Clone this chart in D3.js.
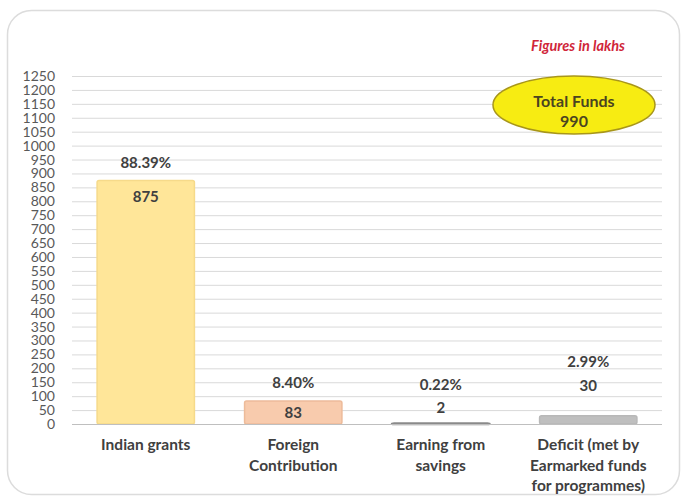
<!DOCTYPE html>
<html>
<head>
<meta charset="utf-8">
<script src="https://cdn.jsdelivr.net/npm/d3@7"></script>
<style>
  body { margin: 0; background: #fff; }
  text { font-family: Lato, "Open Sans", sans-serif; }
</style>
</head>
<body>
<div id="chart"></div>
<script>
// chart data
var categories = ["Indian grants", "Foreign Contribution", "Earning from savings",
                  "Deficit (met by Earmarked funds for programmes)"];
var values = [875, 83, 2, 30];
var shares = ["88.39%", "8.40%", "0.22%", "2.99%"];
var yTicks = d3.range(0, 1251, 50);
var totalLabel = "Total Funds";
var totalValue = 990;
var unitNote = "Figures in lakhs";

// bar styles
var fills   = ["#FFE699", "#F8CBAD", "#9a9a9a", "#BFBFBF"];
var strokes = ["#F6DA8A", "#EDBB9A", "#8a8a8a", "#B8B8B8"];
// label placement relative to bar top (manual, like the original)
var valueDy = [16, 11, -16, -31];
var shareDy = [-18, -19, -39, -55];

var W = 685, H = 499;
var margin = {top: 76, right: 23, bottom: 75, left: 72},
    width = W - margin.left - margin.right,
    height = H - margin.top - margin.bottom;

var svg = d3.select("#chart").append("svg")
    .attr("width", W)
    .attr("height", H);

// outer rounded frame
svg.append("rect")
    .attr("x", 7.5).attr("y", 10.5)
    .attr("width", 672).attr("height", 484)
    .attr("rx", 24)
    .attr("fill", "#fff")
    .attr("stroke", "#dcdcdc")
    .attr("stroke-width", 1.5);

var g = svg.append("g")
    .attr("transform", "translate(" + margin.left + "," + margin.top + ")");

var x = d3.scaleBand().domain(categories).range([0, width])
    .paddingInner(0.34).paddingOuter(0.17);
var y = d3.scaleLinear().domain([0, 1250]).range([height, 0]);

// gridlines
g.selectAll(".grid")
    .data(yTicks.filter(function(d) { return d > 0; }))
    .enter().append("line")
    .attr("x1", 0).attr("x2", width)
    .attr("y1", function(d) { return y(d) + 0.5; })
    .attr("y2", function(d) { return y(d) + 0.5; })
    .attr("stroke", "#d9d9d9")
    .attr("stroke-width", 1);

// y axis labels
var yAxis = g.append("g")
    .call(d3.axisLeft(y).tickValues(yTicks).tickFormat(d3.format("d"))
      .tickSize(0).tickPadding(17));
yAxis.select(".domain").remove();
yAxis.selectAll("text")
    .attr("fill", "#595959")
    .style("font-size", "14px")
    .style("font-family", "Lato, sans-serif");

// bars
g.selectAll(".bar")
    .data(values)
    .enter().append("rect")
    .attr("class", "bar")
    .attr("x", function(d, i) { return x(categories[i]); })
    .attr("width", x.bandwidth())
    .attr("y", function(d) { return y(d); })
    .attr("height", function(d) { return height - y(d); })
    .attr("rx", 2)
    .attr("fill", function(d, i) { return fills[i]; })
    .attr("stroke", function(d, i) { return strokes[i]; })
    .attr("stroke-width", function(d, i) { return i == 2 ? 2.5 : 1.5; });

// baseline
g.append("line")
    .attr("x1", 0).attr("x2", width)
    .attr("y1", height + 0.5).attr("y2", height + 0.5)
    .attr("stroke", "#bfbfbf");

// value labels
g.selectAll(".val")
    .data(values)
    .enter().append("text")
    .attr("x", function(d, i) { return x(categories[i]) + x.bandwidth() / 2; })
    .attr("y", function(d, i) { return y(d) + valueDy[i]; })
    .attr("text-anchor", "middle")
    .attr("dominant-baseline", "central")
    .attr("fill", "#404040")
    .style("font-size", "15px")
    .style("font-weight", "bold")
    .text(function(d) { return d; });

// share labels
g.selectAll(".share")
    .data(values)
    .enter().append("text")
    .attr("x", function(d, i) { return x(categories[i]) + x.bandwidth() / 2; })
    .attr("y", function(d, i) { return y(d) + shareDy[i]; })
    .attr("text-anchor", "middle")
    .attr("dominant-baseline", "central")
    .attr("fill", "#404040")
    .style("font-size", "15px")
    .style("font-weight", "bold")
    .text(function(d, i) { return shares[i]; });

// category labels, wrapped
var cat = g.selectAll(".cat")
    .data(categories)
    .enter().append("text")
    .attr("class", "cat")
    .attr("x", function(d) { return x(d) + x.bandwidth() / 2; })
    .attr("y", height + 26)
    .attr("text-anchor", "middle")
    .attr("fill", "#404040")
    .style("font-size", "15.5px")
    .style("font-weight", "bold");

cat.each(function(d) {
  var t = d3.select(this), words = d.split(" "), line = [];
  var tspan = t.append("tspan").attr("x", t.attr("x")).attr("dy", 0);
  words.forEach(function(w) {
    line.push(w);
    tspan.text(line.join(" "));
    if (tspan.node().getComputedTextLength() > 132 && line.length > 1) {
      line.pop();
      tspan.text(line.join(" "));
      line = [w];
      tspan = t.append("tspan").attr("x", t.attr("x")).attr("dy", 20.5).text(w);
    }
  });
});

// unit note
svg.append("text")
    .attr("x", 578).attr("y", 45)
    .attr("text-anchor", "middle")
    .attr("dominant-baseline", "central")
    .attr("fill", "#d0263a")
    .style("font-size", "14.5px")
    .style("font-weight", "bold")
    .style("font-style", "italic")
    .text(unitNote);

// total funds bubble
var bub = svg.append("g").attr("transform", "translate(574,105)");
bub.append("ellipse")
    .attr("rx", 81).attr("ry", 29)
    .attr("fill", "#F7EC12")
    .attr("stroke", "#A8961A")
    .attr("stroke-width", 1.5);
bub.append("text")
    .attr("y", -5)
    .attr("text-anchor", "middle")
    .attr("dominant-baseline", "central")
    .attr("fill", "#4a4420")
    .style("font-size", "16px")
    .style("font-weight", "bold")
    .text(totalLabel);
bub.append("text")
    .attr("y", 15)
    .attr("text-anchor", "middle")
    .attr("dominant-baseline", "central")
    .attr("fill", "#4a4420")
    .style("font-size", "16px")
    .style("font-weight", "bold")
    .text(totalValue);
</script>
</body>
</html>
